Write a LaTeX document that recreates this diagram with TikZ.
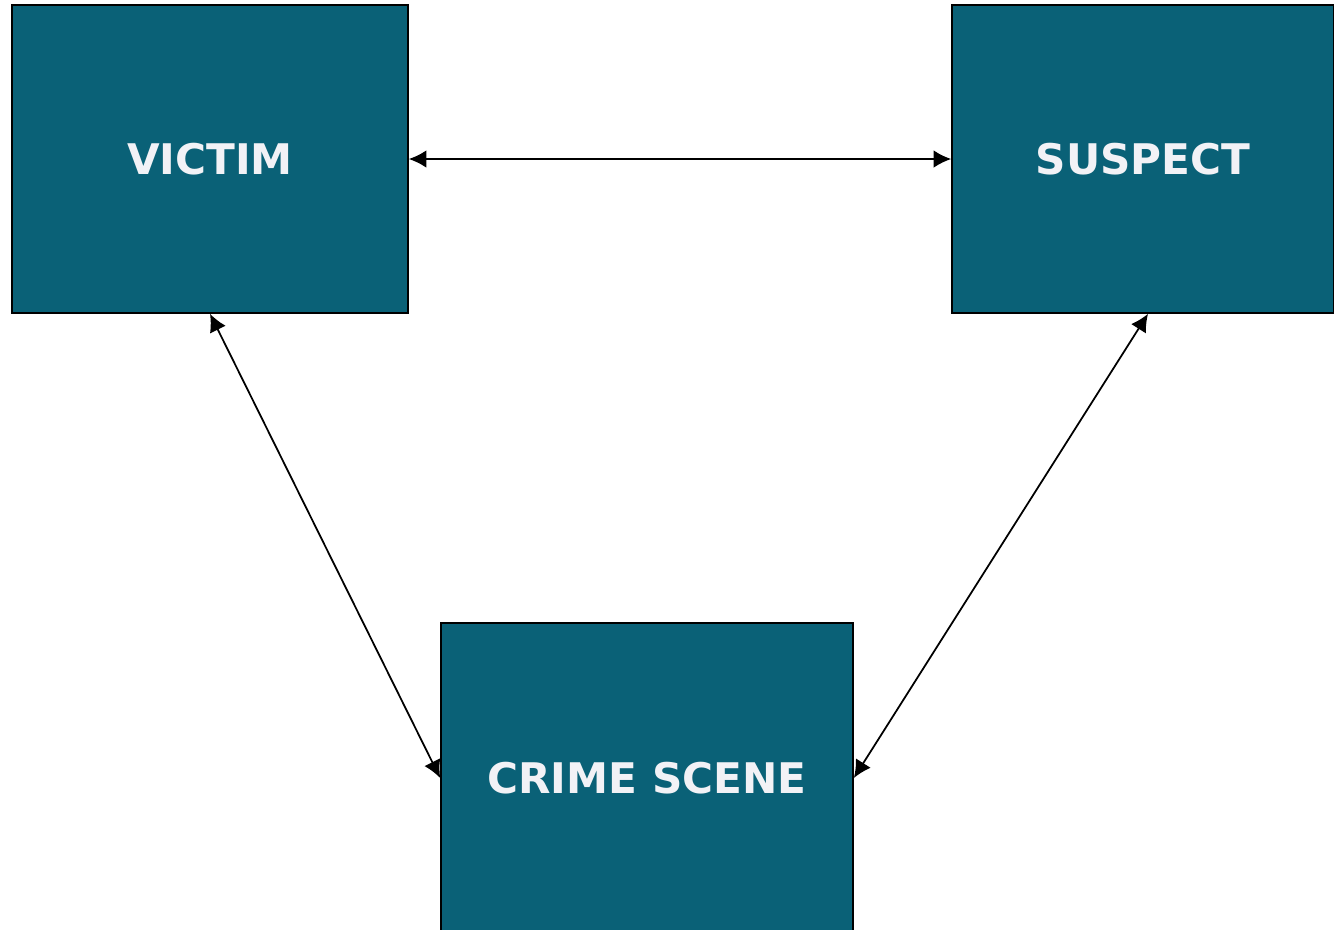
\documentclass[tikz,border=0pt]{standalone}
\usepackage{fontspec}
\setmainfont{DejaVu Sans}
\usetikzlibrary{arrows.meta}
\definecolor{boxteal}{RGB}{10,97,119}
\definecolor{boxtext}{RGB}{242,242,246}
\begin{document}
\begin{tikzpicture}[x=0.01cm,y=-0.01cm,
    box/.style={draw=black,fill=boxteal,text=boxtext,font=\fontsize{12}{14}\selectfont\bfseries,inner sep=0pt},
    link/.style={{Latex[length=5pt,width=5pt]}-{Latex[length=5pt,width=5pt]},line width=0.5pt}]
    \useasboundingbox (0,0) rectangle (1334,929);

    \node[box,minimum width=3.96cm,minimum height=3.08cm] (victim) at (210,159) {VICTIM};
    \node[box,minimum width=3.82cm,minimum height=3.08cm] (suspect) at (1143,159) {SUSPECT};
    \node[box,minimum width=4.12cm,minimum height=3.1cm] (scene) at (647,778) {CRIME SCENE};

    \draw[link] (victim) -- (suspect);
    \draw[link] (victim.south) -- (scene.west);
    \draw[link] ([xshift=0.05cm]suspect.south) -- (scene.east);
  \end{tikzpicture}
\end{document}
